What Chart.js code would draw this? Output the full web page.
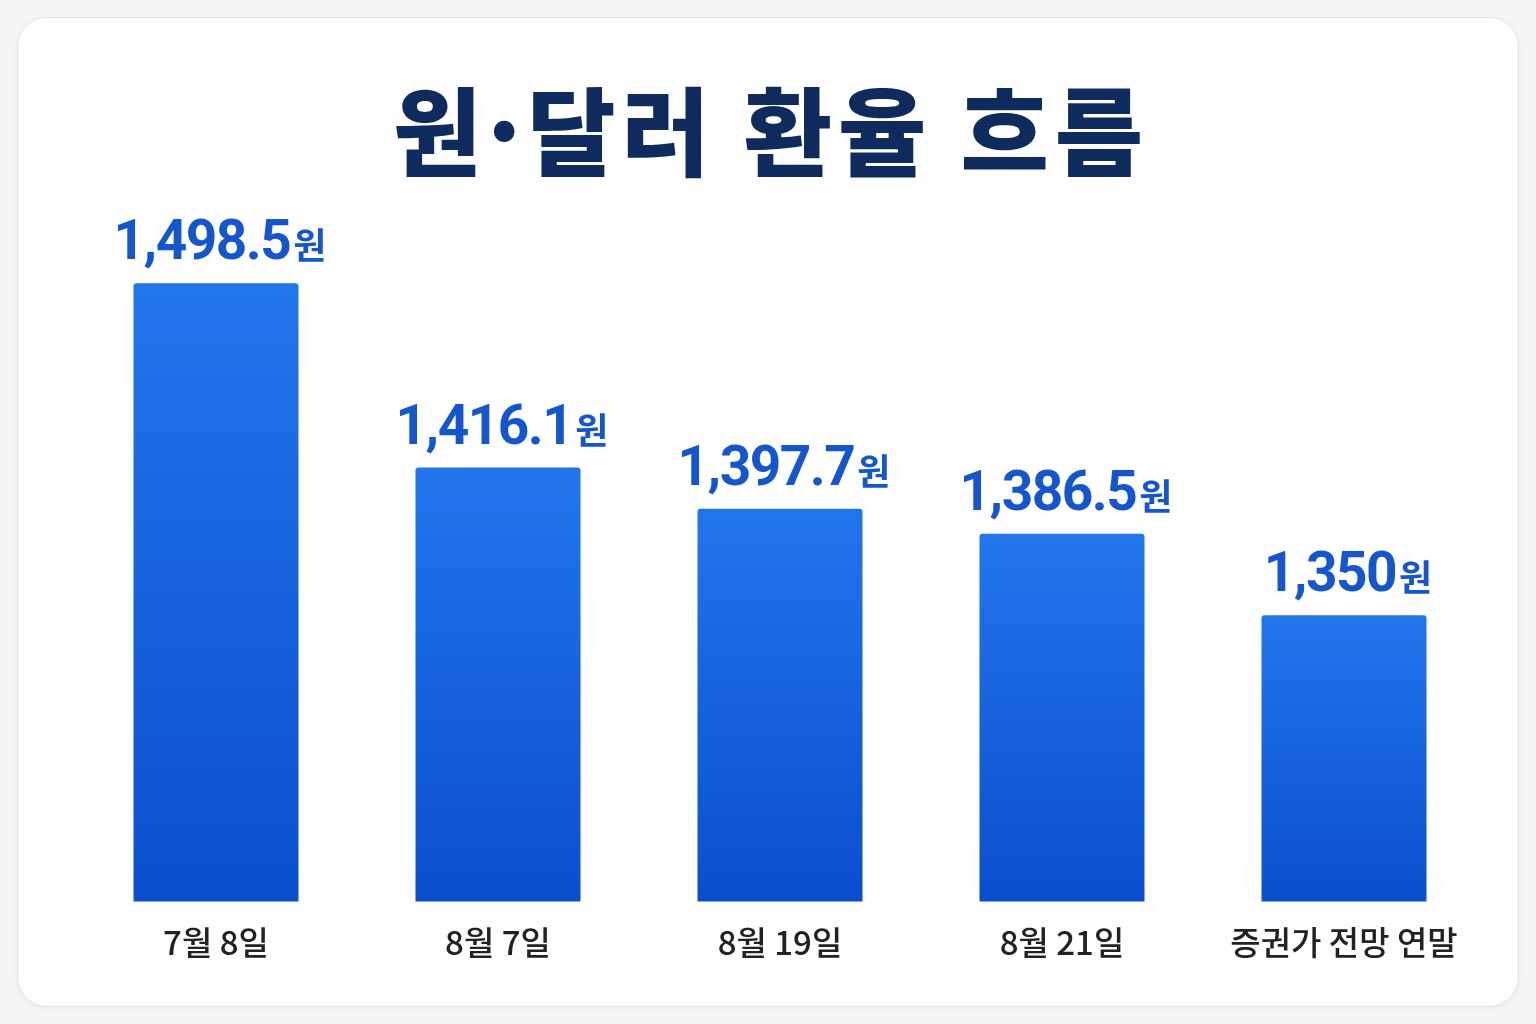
<!DOCTYPE html>
<html lang="ko">
<head>
<meta charset="utf-8">
<script src="https://cdn.jsdelivr.net/npm/chart.js@4.4.0/dist/chart.umd.min.js"></script>
<style>
  html, body { margin: 0; padding: 0; background: #f5f5f5; }
  body { width: 1536px; height: 1024px; position: relative; overflow: hidden; }
  #card {
    position: absolute; left: 17px; top: 17px; width: 1500px; height: 988px;
    border: 1.5px solid #e2e2e2; border-radius: 30px; background: #fefefe;
    box-shadow: 0 2px 6px rgba(0,0,0,0.04);
  }
  #wrap { position: absolute; left: 0; top: 0; width: 1536px; height: 1024px; }
</style>
</head>
<body>
<div id="card"></div>
<div id="wrap"><canvas id="c" width="1536" height="1024"></canvas></div>
<script>
const titleText = "원·달러 환율 흐름";
const categories = ["7월 8일", "8월 7일", "8월 19일", "8월 21일", "증권가 전망 연말"];
const rates = [1498.5, 1416.1, 1397.7, 1386.5, 1350];
const rateLabels = ["1,498.5", "1,416.1", "1,397.7", "1,386.5", "1,350"];
const unitLabel = "원";

const FONT = "'Noto Sans CJK KR', 'Noto Sans', sans-serif";
const NUMFONT = "Roboto, 'Noto Sans CJK KR', sans-serif";

const titlePlugin = {
  id: 'customTitle',
  afterDraw(chart) {
    const ctx = chart.ctx;
    ctx.save();
    ctx.font = "900 96px " + FONT;
    ctx.fillStyle = '#0f2a5c';
    ctx.textBaseline = 'middle';
    ctx.textAlign = 'center';
    try { ctx.letterSpacing = '6px'; } catch (e) {}
    ctx.fillText(titleText, chart.width / 2 + 3, 132);
    ctx.restore();
  }
};

const valueLabelPlugin = {
  id: 'valueLabels',
  afterDatasetsDraw(chart) {
    const ctx = chart.ctx;
    const meta = chart.getDatasetMeta(0);
    ctx.save();
    ctx.fillStyle = '#1656cc';
    ctx.textBaseline = 'alphabetic';
    ctx.textAlign = 'left';
    meta.data.forEach((bar, i) => {
      const numFont = "bold 55px " + NUMFONT;
      const unitFont = "bold 36px " + FONT;
      ctx.font = numFont;
      try { ctx.letterSpacing = '-1.5px'; } catch (e) {}
      const nw = ctx.measureText(rateLabels[i]).width;
      try { ctx.letterSpacing = '0px'; } catch (e) {}
      ctx.font = unitFont;
      const uw = ctx.measureText(unitLabel).width;
      const total = nw + 3 + uw;
      const x0 = bar.x - total / 2 + 4;
      const yb = bar.y - 24;
      ctx.font = numFont;
      try { ctx.letterSpacing = '-1.5px'; } catch (e) {}
      ctx.fillText(rateLabels[i], x0, yb);
      try { ctx.letterSpacing = '0px'; } catch (e) {}
      ctx.font = unitFont;
      ctx.fillText(unitLabel, x0 + nw + 3, yb);
    });
    ctx.restore();
  }
};

new Chart(document.getElementById('c'), {
  type: 'bar',
  data: {
    labels: categories,
    datasets: [{
      data: rates,
      backgroundColor: (context) => {
        const chart = context.chart;
        const area = chart.chartArea;
        if (!area || context.type !== 'data') return '#1a63e0';
        const ys = chart.scales.y;
        const top = ys.getPixelForValue(rates[context.dataIndex]);
        const bottom = ys.bottom;
        const g = chart.ctx.createLinearGradient(0, top, 0, bottom);
        g.addColorStop(0, '#2276ec');
        g.addColorStop(1, '#0a4ecf');
        return g;
      },
      borderRadius: 3,
      borderSkipped: false,
      categoryPercentage: 1,
      barPercentage: 0.585
    }]
  },
  options: {
    responsive: false,
    animation: false,
    devicePixelRatio: 1,
    layout: { padding: { top: 280, left: 75, right: 51, bottom: 41 } },
    plugins: {
      legend: { display: false },
      tooltip: { enabled: false },
      title: { display: false }
    },
    scales: {
      x: {
        grid: { display: false, drawTicks: false },
        border: { display: false },
        ticks: {
          color: '#222222',
          padding: 21,
          font: { family: FONT, size: 33, weight: '500', lineHeight: 1.2 }
        }
      },
      y: {
        display: false,
        min: 1222,
        max: 1500
      }
    }
  },
  plugins: [valueLabelPlugin, titlePlugin]
});
</script>
</body>
</html>
